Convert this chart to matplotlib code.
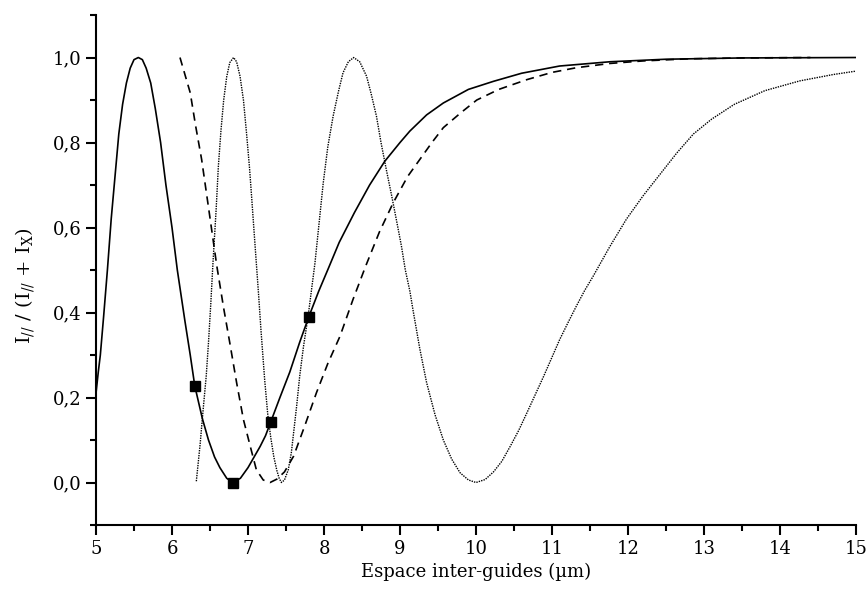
import numpy as np
import matplotlib.pyplot as plt
from matplotlib.ticker import MultipleLocator, FuncFormatter

# solid curve
x_solid = [5.0, 5.03, 5.057, 5.10, 5.15, 5.20, 5.25, 5.30, 5.35, 5.40, 5.45, 5.50,
           5.557, 5.61, 5.66, 5.72, 5.78, 5.85, 5.92, 6.0, 6.07, 6.17, 6.24, 6.30,
           6.40, 6.48, 6.56, 6.63, 6.72, 6.80, 6.90, 7.0, 7.08, 7.16, 7.23, 7.30,
           7.42, 7.55, 7.68, 7.80, 7.93, 8.06, 8.2, 8.4, 8.6, 8.8, 9.0, 9.13,
           9.35, 9.57, 9.9, 10.23, 10.6, 11.1, 11.76, 12.5, 13.5, 15.0]
y_solid = [0.21, 0.26, 0.30, 0.39, 0.50, 0.62, 0.72, 0.82, 0.89, 0.94, 0.975, 0.995,
           1.0, 0.995, 0.975, 0.94, 0.88, 0.80, 0.70, 0.60, 0.50, 0.38, 0.30, 0.227,
           0.15, 0.10, 0.06, 0.035, 0.01, 0.0, 0.01, 0.035, 0.06, 0.085, 0.11, 0.143,
           0.20, 0.26, 0.33, 0.39, 0.45, 0.505, 0.565, 0.635, 0.70, 0.756, 0.80, 0.827,
           0.865, 0.893, 0.925, 0.944, 0.963, 0.98, 0.99, 0.996, 0.999, 1.0]

# dashed curve
x_dash = [6.105, 6.17, 6.24, 6.31, 6.39, 6.49, 6.59, 6.68, 6.76, 6.85, 6.94, 7.03,
          7.11, 7.20, 7.29, 7.38, 7.48, 7.60, 7.75, 7.90, 8.05, 8.21, 8.38, 8.55,
          8.73, 8.91, 9.1, 9.26, 9.42, 9.57, 9.8, 10.01, 10.3, 10.67, 11.0, 11.32,
          11.76, 12.2, 12.8, 13.5, 14.4]
y_dash = [1.0, 0.96, 0.917, 0.84, 0.76, 0.635, 0.509, 0.41, 0.329, 0.235, 0.148, 0.085,
          0.03, 0.006, 0.0, 0.008, 0.025, 0.062, 0.135, 0.211, 0.28, 0.344, 0.43, 0.51,
          0.59, 0.658, 0.72, 0.76, 0.80, 0.835, 0.87, 0.90, 0.925, 0.948, 0.965, 0.976,
          0.986, 0.992, 0.997, 0.999, 1.0]

# dotted curve
x_dot = [6.32, 6.37, 6.41, 6.45, 6.48, 6.51, 6.54, 6.58, 6.61, 6.645, 6.68, 6.72,
         6.76, 6.81, 6.85, 6.895, 6.94, 6.98, 7.02, 7.05, 7.08, 7.11, 7.14, 7.17,
         7.22, 7.26, 7.30, 7.34, 7.38, 7.41, 7.44, 7.48, 7.53, 7.57, 7.60, 7.64,
         7.68, 7.73, 7.79, 7.88, 7.99, 8.05, 8.12, 8.19, 8.25, 8.32, 8.39, 8.47,
         8.56, 8.62, 8.69, 8.75, 8.82, 8.89, 8.96, 9.02, 9.07, 9.13, 9.17, 9.26,
         9.35, 9.46, 9.57, 9.68, 9.79, 9.9, 10.0, 10.12, 10.23, 10.34, 10.45, 10.56,
         10.67, 10.78, 10.89, 11.0, 11.1, 11.21, 11.32, 11.43, 11.54, 11.76, 11.98,
         12.2, 12.42, 12.64, 12.86, 13.1, 13.4, 13.8, 14.26, 14.7, 15.0]
y_dot = [0.003, 0.09, 0.172, 0.25, 0.329, 0.42, 0.52, 0.64, 0.744, 0.83, 0.90, 0.955,
         0.988, 1.0, 0.99, 0.956, 0.90, 0.823, 0.74, 0.666, 0.59, 0.515, 0.44, 0.36,
         0.24, 0.16, 0.105, 0.06, 0.028, 0.01, 0.0, 0.006, 0.03, 0.07, 0.117, 0.18,
         0.25, 0.32, 0.39, 0.515, 0.705, 0.79, 0.862, 0.92, 0.964, 0.99, 1.0, 0.99,
         0.956, 0.915, 0.862, 0.80, 0.736, 0.675, 0.611, 0.555, 0.50, 0.45, 0.407, 0.315,
         0.235, 0.16, 0.10, 0.055, 0.023, 0.006, 0.0, 0.007, 0.025, 0.05, 0.085, 0.122,
         0.164, 0.207, 0.25, 0.295, 0.336, 0.376, 0.415, 0.452, 0.485, 0.555, 0.62,
         0.675, 0.725, 0.775, 0.82, 0.855, 0.89, 0.922, 0.945, 0.96, 0.968]

# squares
x_pts = [6.3, 6.8, 7.3, 7.8]
y_pts = [0.227, 0.0, 0.143, 0.39]

plt.rcParams['font.family'] = ['DejaVu Serif']
plt.rcParams['mathtext.fontset'] = 'dejavuserif'

fig = plt.figure(figsize=(8.68, 5.96), dpi=100)
ax = fig.add_axes([0.1106, 0.1191, 0.8756, 0.8557])

ax.plot(x_solid, y_solid, color='black', lw=1.2)
ax.plot(x_dash, y_dash, color='black', lw=1.2, dashes=(5, 3.5))
ax.plot(x_dot, y_dot, color='black', lw=1.0, dashes=(1, 0.8))
ax.plot(x_pts, y_pts, 's', color='black', ms=7)

ax.set_xlim(5, 15)
ax.set_ylim(-0.1, 1.1)
ax.spines['top'].set_visible(False)
ax.spines['right'].set_visible(False)
for s in ['left', 'bottom']:
    ax.spines[s].set_linewidth(1.5)

ax.xaxis.set_major_locator(MultipleLocator(1))
ax.xaxis.set_minor_locator(MultipleLocator(0.5))
ax.yaxis.set_minor_locator(MultipleLocator(0.1))
ax.set_yticks(np.arange(0, 1.01, 0.2))
ax.yaxis.set_major_formatter(FuncFormatter(lambda v, p: f'{v:.1f}'.replace('.', ',')))
ax.tick_params(which='major', direction='out', length=7, width=1.5, labelsize=13)
ax.tick_params(which='minor', direction='out', length=4, width=1.5)

ax.set_xlabel('Espace inter-guides (µm)', fontsize=13, labelpad=4)
ax.set_ylabel(r'I$_{//}$ / (I$_{//}$ + I$_{\mathrm{X}}$)', fontsize=14)
ax.yaxis.set_label_coords(-0.078, 0.47)

fig.savefig('out.png', dpi=100)
